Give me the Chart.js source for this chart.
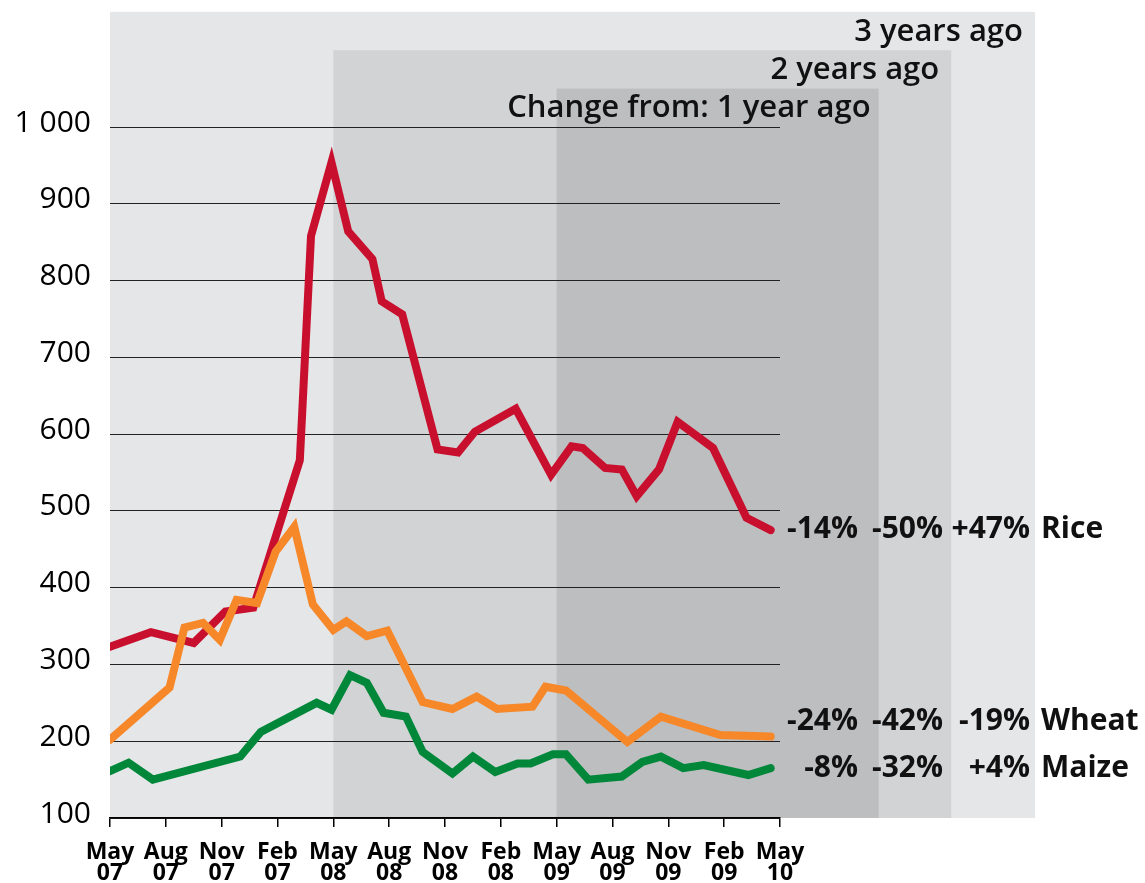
<!DOCTYPE html>
<html>
<head>
<meta charset="utf-8">
<script src="https://cdn.jsdelivr.net/npm/chart.js@4"></script>
<style>
html,body{margin:0;padding:0;background:#fff;}
#wrap{position:relative;width:1145px;height:883px;}
</style>
</head>
<body>
<div id="wrap"><canvas id="c"></canvas></div>
<script>
// Months since May 2007 (x) and price values (y)
const riceMonths  = [0, 2.2, 4.5, 6.2, 7.7, 10.2, 10.8, 11.9, 12.8, 14.1, 14.6, 15.7, 17.6, 18.7, 19.6, 21.8, 23.7, 24.8, 25.4, 26.6, 27.5, 28.3, 29.5, 30.5, 32.4, 34.2, 35.5];
const riceValues  = [323, 342, 328, 369, 374, 566, 858, 954, 864, 828, 773, 756, 580, 576, 603, 633, 547, 584, 582, 556, 554, 519, 554, 616, 582, 491, 475];

const wheatMonths = [0, 3.2, 4.0, 5.0, 5.9, 6.8, 7.9, 8.9, 9.9, 10.9, 12.0, 12.7, 13.8, 14.9, 16.8, 18.4, 19.7, 20.8, 22.7, 23.4, 24.5, 27.8, 29.6, 32.8, 35.5];
const wheatValues = [202, 270, 348, 354, 332, 384, 380, 447, 479, 378, 345, 356, 337, 344, 251, 242, 258, 242, 245, 271, 266, 199, 232, 208, 206];

const maizeMonths = [0, 1.0, 2.3, 7.0, 8.1, 11.1, 11.9, 12.9, 13.8, 14.7, 15.9, 16.8, 18.4, 19.5, 20.7, 21.9, 22.6, 23.8, 24.5, 25.7, 27.5, 28.6, 29.6, 30.8, 31.9, 34.3, 35.5];
const maizeValues = [161, 172, 150, 180, 212, 250, 241, 286, 276, 237, 232, 186, 158, 180, 160, 171, 171, 183, 183, 150, 154, 173, 180, 165, 169, 156, 165];

// Tick labels (as printed in the source, every 3 months)
const tickMonths = [0, 3, 6, 9, 12, 15, 18, 21, 24, 27, 30, 33, 36];
const tickLabels = [["May","07"],["Aug","07"],["Nov","07"],["Feb","07"],["May","08"],["Aug","08"],["Nov","08"],["Feb","08"],["May","09"],["Aug","09"],["Nov","09"],["Feb","09"],["May","10"]];

// Change-from table
const seriesNames   = ["Rice", "Wheat", "Maize"];
const change1Year   = ["-14%", "-24%", "-8%"];
const change2Years  = ["-50%", "-42%", "-32%"];
const change3Years  = ["+47%", "-19%", "+4%"];
const periodLabels  = ["3 years ago", "2 years ago", "Change from: 1 year ago"];
const periodStart   = [0, 12, 24];   // months where each shaded period begins

function pts(xs, ys){ return xs.map((x,i)=>({x:x, y:ys[i]})); }

const FONT = "'Open Sans', 'DejaVu Sans', sans-serif";

const shading = {
  id: 'shading',
  beforeDraw(chart){
    const ctx = chart.ctx, xs = chart.scales.x, ys = chart.scales.y;
    const bottom = ys.getPixelForValue(100);
    const boxes = [
      {start: periodStart[0], end: 49.7, top: 1150, color:'#e5e6e8'},
      {start: periodStart[1], end: 45.2, top: 1100, color:'#d2d3d5'},
      {start: periodStart[2], end: 41.3, top: 1050, color:'#bdbec0'}
    ];
    ctx.save();
    boxes.forEach(b=>{
      const l = xs.getPixelForValue(b.start), r = xs.getPixelForValue(b.end);
      const t = ys.getPixelForValue(b.top);
      ctx.fillStyle = b.color;
      ctx.fillRect(l, t, r-l, bottom-t);
    });
    ctx.fillStyle = '#111';
    ctx.font = "600 31px " + FONT;
    ctx.textAlign = 'right';
    ctx.textBaseline = 'middle';
    ctx.fillText(periodLabels[0], xs.getPixelForValue(49.7)-12, ys.getPixelForValue(1124));
    ctx.fillText(periodLabels[1], xs.getPixelForValue(45.2)-12, ys.getPixelForValue(1074));
    ctx.fillText(periodLabels[2], xs.getPixelForValue(41.3)-8, ys.getPixelForValue(1025));
    ctx.restore();
  },
  afterDraw(chart){
    const ctx = chart.ctx, xs = chart.scales.x, ys = chart.scales.y;
    const rowVals = [476, 226, 164];
    ctx.save();
    ctx.fillStyle = '#111';
    ctx.font = "bold 30px " + FONT;
    ctx.textBaseline = 'middle';
    rowVals.forEach((v,i)=>{
      const y = ys.getPixelForValue(v);
      ctx.textAlign = 'right';
      ctx.fillText(change1Year[i], 858, y);
      ctx.fillText(change2Years[i], 943, y);
      ctx.fillText(change3Years[i], 1030, y);
      ctx.textAlign = 'left';
      ctx.fillText(seriesNames[i], 1041, y);
    });
    ctx.restore();
  }
};

const lineCommon = {pointRadius:0, borderWidth:8, borderCapStyle:'round', borderJoinStyle:'miter', fill:false, tension:0, clip:{left:0, right:10, top:10, bottom:10}};

new Chart(document.getElementById('c'), {
  type:'line',
  data:{
    datasets:[
      Object.assign({label:'Wheat', data:pts(wheatMonths, wheatValues), borderColor:'#f6882a'}, lineCommon),
      Object.assign({label:'Rice', data:pts(riceMonths, riceValues), borderColor:'#c8102e'}, lineCommon),
      Object.assign({label:'Maize', data:pts(maizeMonths, maizeValues), borderColor:'#00873a'}, lineCommon)
    ]
  },
  options:{
    responsive:true,
    maintainAspectRatio:false,
    animation:false,
    events:[],
    layout:{padding:{top:127, right:365, left:0, bottom:0}},
    plugins:{legend:{display:false}, tooltip:{enabled:false}},
    scales:{
      x:{
        type:'linear', min:0, max:36,
        afterBuildTicks(scale){ scale.ticks = tickMonths.map(v=>({value:v})); },
        afterFit(scale){ scale.height = 65; },
        grid:{drawOnChartArea:false, drawTicks:true, tickLength:9, color:'#000', lineWidth:1.5},
        border:{display:true, color:'#000', width:1.5},
        ticks:{
          autoSkip:false, maxRotation:0, padding:15,
          color:'#000',
          font:{family:FONT, size:23, weight:'bold', lineHeight:'21px'},
          callback(value){ const i = tickMonths.indexOf(value); return i>=0 ? tickLabels[i] : ''; }
        }
      },
      y:{
        type:'linear', min:100, max:1000,
        afterFit(scale){ scale.width = 110; },
        grid:{drawTicks:false, color:'#222', lineWidth:1},
        border:{display:false},
        ticks:{
          stepSize:100, padding:19, color:'#000', labelOffset:-4,
          font:{family:FONT, size:30},
          callback(v){ return v>=1000 ? '1 000' : String(v); }
        }
      }
    }
  },
  plugins:[shading]
});
</script>
</body>
</html>
